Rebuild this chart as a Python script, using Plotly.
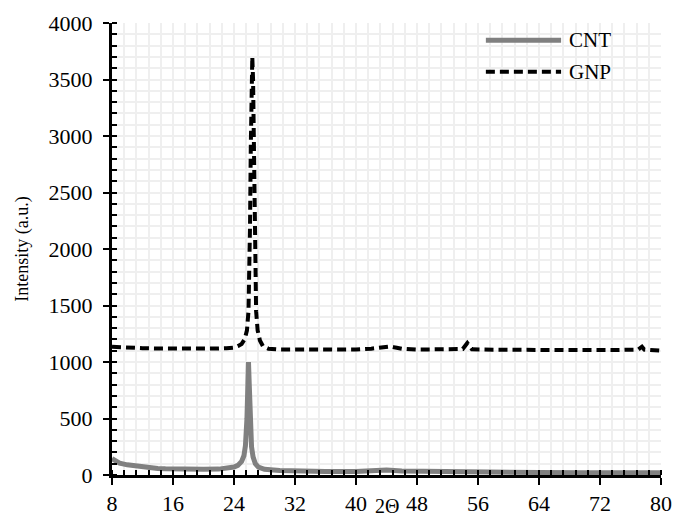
import plotly.graph_objects as go

# CNT pattern (2-theta, intensity)
cnt_x = [8, 8.5, 9, 10, 11, 12, 13, 14, 15, 16, 18, 20, 22, 23, 24, 24.5, 25, 25.3, 25.5,
         25.7, 25.8, 25.9, 26.0, 26.1, 26.3, 26.5, 26.8, 27.2, 28, 30, 32, 36, 40, 42, 43,
         44, 46, 50, 54, 56, 60, 64, 70, 76, 80]
cnt_y = [145, 120, 105, 90, 80, 70, 62, 58, 55, 52, 50, 50, 52, 58, 70, 85, 120, 170, 260,
         500, 800, 1000, 800, 500, 250, 160, 100, 70, 50, 40, 35, 32, 32, 40, 52,
         45, 35, 30, 28, 27, 24, 22, 21, 20, 19]

# GNP pattern (2-theta, intensity)
gnp_x = [8, 9, 10, 12, 14, 16, 18, 20, 22, 23, 24, 24.5, 25, 25.4, 25.7, 25.9, 26.0, 26.1,
         26.2, 26.3, 26.4, 26.5, 26.6, 26.7, 26.8, 26.9, 27.1, 27.4, 27.8, 28.5, 30, 34,
         38, 40, 42, 43, 44, 44.5, 45, 46, 48, 52, 54, 54.4, 54.6, 54.8, 55.2, 58, 62, 66,
         70, 74, 77, 77.5, 77.8, 80]
gnp_y = [1135, 1130, 1128, 1122, 1120, 1118, 1118, 1118, 1120, 1122, 1128, 1140, 1160, 1200,
         1280, 1450, 1700, 2200, 2900, 3500, 3700, 3500, 2900, 2200, 1700, 1450, 1280, 1190,
         1140, 1118, 1110, 1108, 1108, 1110, 1118, 1125, 1135, 1138, 1130, 1118, 1110, 1108,
         1115, 1150, 1168, 1150, 1112, 1108, 1106, 1106, 1106, 1106, 1110, 1135, 1110, 1100]

series_names = ["CNT", "GNP"]
x_ticks = [8, 16, 24, 32, 40, 48, 56, 64, 72, 80]
y_ticks = [0, 500, 1000, 1500, 2000, 2500, 3000, 3500, 4000]

FONT = "Liberation Serif"
GRID = "#efefef"
CNT_LINE = dict(color="#808080", width=5)
GNP_LINE = dict(color="black", width=4, dash="9px,5px")

fig = go.Figure()
fig.add_trace(go.Scatter(x=cnt_x, y=cnt_y, mode="lines", name=series_names[0],
                         line=CNT_LINE, showlegend=False))
fig.add_trace(go.Scatter(x=gnp_x, y=gnp_y, mode="lines", name=series_names[1],
                         line=GNP_LINE, showlegend=False))

# legend drawn as decoration (long sample lines like the original)
legend_rows = [(0.962, CNT_LINE, series_names[0]), (0.892, GNP_LINE, series_names[1])]
shapes = []
annotations = []
for ly, lstyle, label in legend_rows:
    shapes.append(dict(type="line", xref="paper", yref="paper", x0=0.681, x1=0.818,
                       y0=ly, y1=ly, line=lstyle))
    annotations.append(dict(text=label, xref="paper", yref="paper", x=0.829, y=ly,
                            xanchor="left", yanchor="middle", showarrow=False,
                            font=dict(size=21, family=FONT, color="black")))
annotations.append(dict(text="2Θ", xref="paper", yref="paper", x=0.5, y=-0.096,
                        xanchor="center", yanchor="bottom", showarrow=False,
                        borderpad=0,
                        font=dict(size=20, family=FONT, color="black")))

fig.update_layout(
    width=686, height=520,
    margin=dict(l=112, r=25, t=23, b=45),
    paper_bgcolor="white", plot_bgcolor="white",
    font=dict(family=FONT, size=22, color="black"),
    showlegend=False,
    shapes=shapes,
    annotations=annotations,
)

fig.update_xaxes(
    range=[8, 80], tickvals=x_ticks, ticktext=[str(v) for v in x_ticks],
    showline=True, linecolor="black", linewidth=3, automargin=False,
    ticks="outside", ticklen=7, tickwidth=2, tickcolor="black",
    showgrid=True, gridcolor=GRID, gridwidth=2, zeroline=False,
    minor=dict(dtick=1.6, tick0=8, ticks="inside", ticklen=5, tickwidth=2,
               tickcolor="black", showgrid=True, gridcolor=GRID, gridwidth=2),
    tickfont=dict(size=22, family=FONT),
)
fig.update_yaxes(
    range=[0, 4000], tickvals=y_ticks,
    showline=True, linecolor="black", linewidth=3, automargin=False,
    ticks="outside", ticklen=6, tickwidth=2, tickcolor="black", ticklabelstandoff=6,
    showgrid=True, gridcolor=GRID, gridwidth=2, zeroline=False,
    minor=dict(dtick=100, tick0=0, ticks="inside", ticklen=5, tickwidth=2,
               tickcolor="black", showgrid=True, gridcolor=GRID, gridwidth=2),
    tickfont=dict(size=22, family=FONT),
    title=dict(text="Intensity (a.u.)", font=dict(size=18, family=FONT), standoff=16),
)

fig.write_html("out.html")
